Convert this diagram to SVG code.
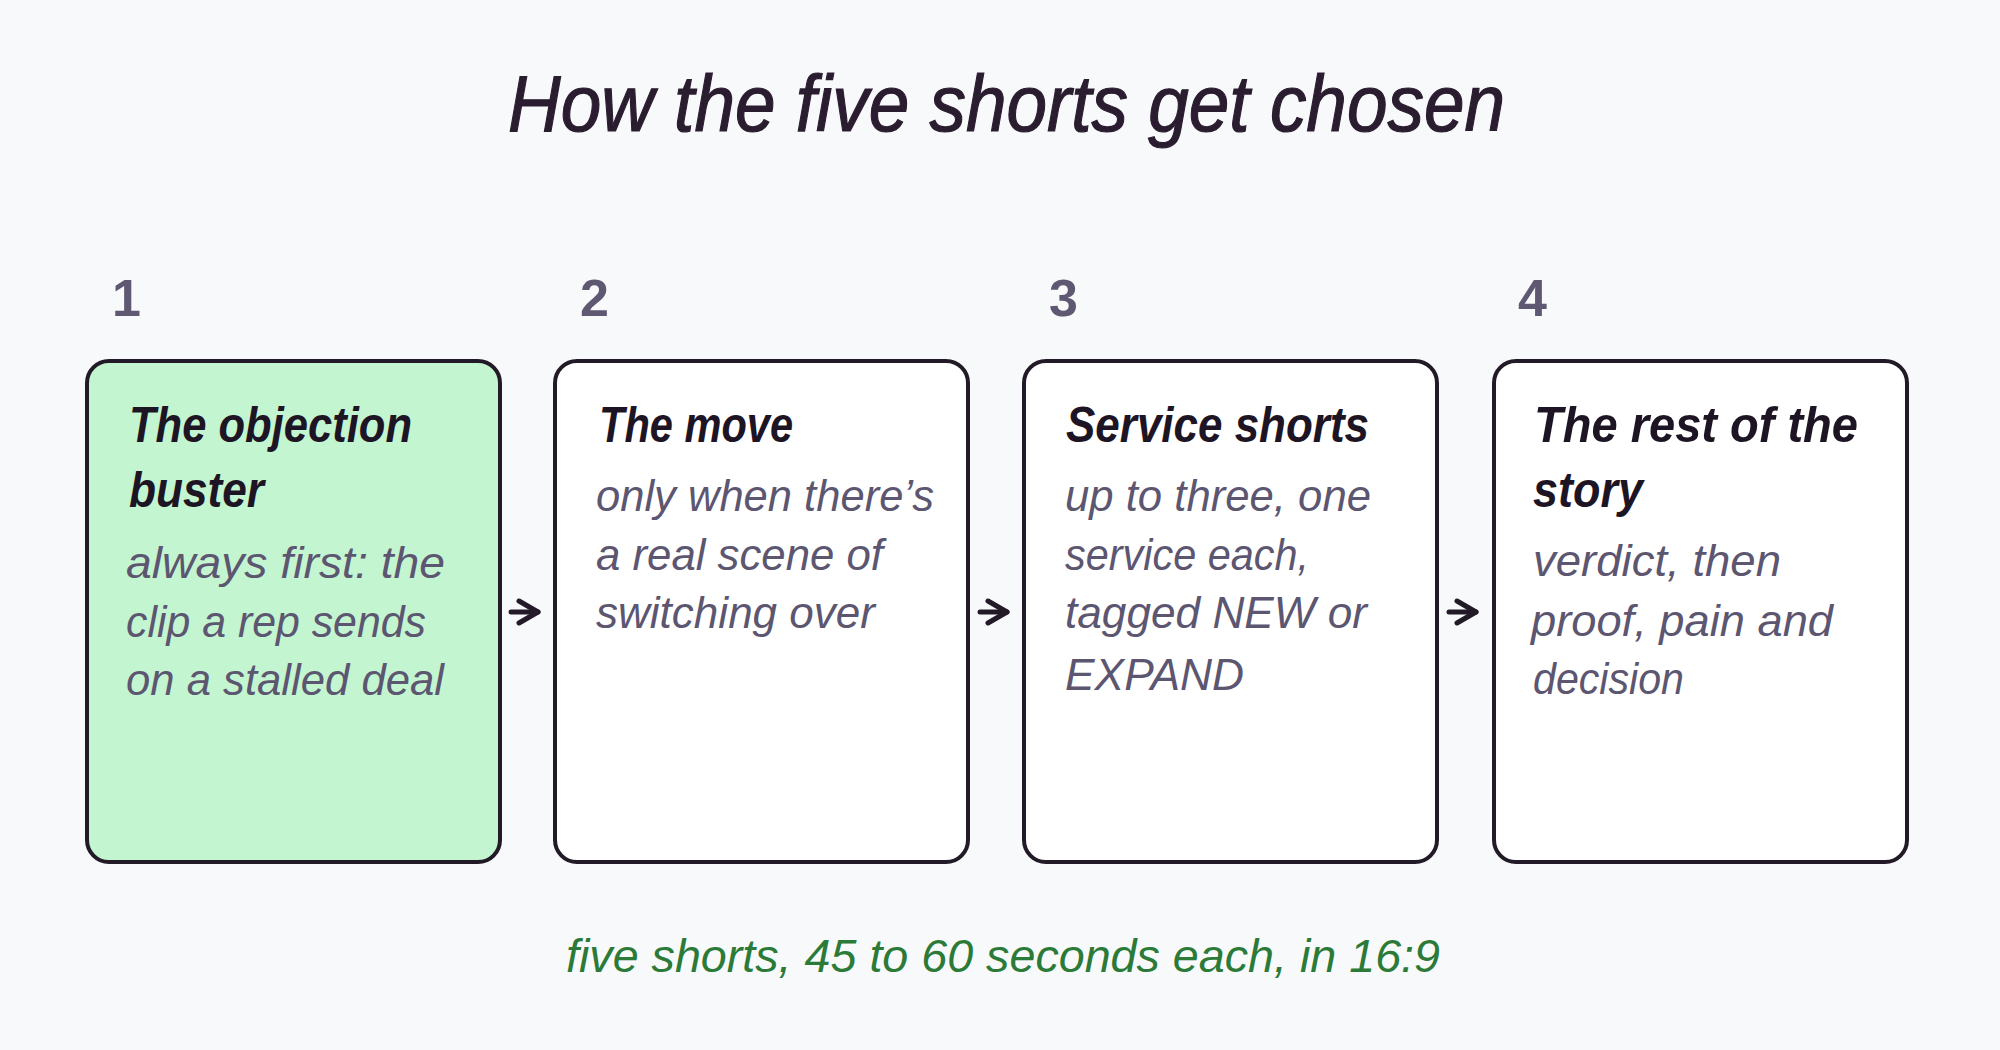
<svg xmlns="http://www.w3.org/2000/svg" width="2000" height="1050" viewBox="0 0 2000 1050">
<defs>
<style>
.bg{fill:#f8f9fb}
.box{stroke:#231a27;stroke-width:4;stroke-linejoin:round}
.title{font-family:"Liberation Sans",Arial,sans-serif;font-style:italic;font-size:80px;fill:#2a1d2f;stroke:#2a1d2f;stroke-width:1.2}
.num{font-family:"Liberation Sans",Arial,sans-serif;font-weight:bold;font-size:52px;fill:#5f5872}
.head{font-family:"Liberation Sans",Arial,sans-serif;font-style:italic;font-weight:bold;font-size:50px;fill:#1e1524}
.body{font-family:"Liberation Sans",Arial,sans-serif;font-style:italic;font-size:44px;fill:#5c5670}
.foot{font-family:"Liberation Sans",Arial,sans-serif;font-style:italic;font-size:46px;fill:#2b7a37}
.conn{stroke:#231a27;stroke-width:5;fill:none;stroke-linecap:round;stroke-linejoin:round}
</style>
<marker id="ah" viewBox="0 0 26 28" refX="23" refY="14" markerWidth="26" markerHeight="28" markerUnits="userSpaceOnUse" orient="auto">
<path d="M4,3 L23,14 L4,25" fill="none" stroke="#231a27" stroke-width="5" stroke-linecap="round" stroke-linejoin="round"/>
</marker>
</defs>
<rect class="bg" x="0" y="0" width="2000" height="1050"/>
<text class="title" x="508" y="131" textLength="997" lengthAdjust="spacingAndGlyphs">How the five shorts get chosen</text>

<g id="connectors">
<path class="conn" d="M511,612 L538,612" marker-end="url(#ah)"/>
<path class="conn" d="M980,612 L1007,612" marker-end="url(#ah)"/>
<path class="conn" d="M1449,612 L1476,612" marker-end="url(#ah)"/>
</g>

<g id="step1">
<text class="num" x="112" y="316">1</text>
<rect class="box" x="87" y="361" width="413" height="501" rx="22" fill="#c3f5d0"/>
<text class="head" x="129" y="442" textLength="283" lengthAdjust="spacingAndGlyphs">The objection</text>
<text class="head" x="129" y="507" textLength="135" lengthAdjust="spacingAndGlyphs">buster</text>
<text class="body" x="126" y="578" textLength="319" lengthAdjust="spacingAndGlyphs">always first: the</text>
<text class="body" x="126" y="637" textLength="300" lengthAdjust="spacingAndGlyphs">clip a rep sends</text>
<text class="body" x="126" y="695" textLength="318" lengthAdjust="spacingAndGlyphs">on a stalled deal</text>
</g>

<g id="step2">
<text class="num" x="580" y="316">2</text>
<rect class="box" x="555" y="361" width="413" height="501" rx="22" fill="#ffffff"/>
<text class="head" x="599" y="442" textLength="194" lengthAdjust="spacingAndGlyphs">The move</text>
<text class="body" x="596" y="511" textLength="338" lengthAdjust="spacingAndGlyphs">only when there’s</text>
<text class="body" x="596" y="570" textLength="287" lengthAdjust="spacingAndGlyphs">a real scene of</text>
<text class="body" x="596" y="628" textLength="279" lengthAdjust="spacingAndGlyphs">switching over</text>
</g>

<g id="step3">
<text class="num" x="1049" y="316">3</text>
<rect class="box" x="1024" y="361" width="413" height="501" rx="22" fill="#ffffff"/>
<text class="head" x="1066" y="442" textLength="303" lengthAdjust="spacingAndGlyphs">Service shorts</text>
<text class="body" x="1065" y="511" textLength="306" lengthAdjust="spacingAndGlyphs">up to three, one</text>
<text class="body" x="1065" y="570" textLength="244" lengthAdjust="spacingAndGlyphs">service each,</text>
<text class="body" x="1065" y="628" textLength="302" lengthAdjust="spacingAndGlyphs">tagged NEW or</text>
<text class="body" x="1065" y="690" textLength="179" lengthAdjust="spacingAndGlyphs">EXPAND</text>
</g>

<g id="step4">
<text class="num" x="1518" y="316">4</text>
<rect class="box" x="1494" y="361" width="413" height="501" rx="22" fill="#ffffff"/>
<text class="head" x="1534" y="442" textLength="324" lengthAdjust="spacingAndGlyphs">The rest of the</text>
<text class="head" x="1533" y="507" textLength="110" lengthAdjust="spacingAndGlyphs">story</text>
<text class="body" x="1533" y="576" textLength="248" lengthAdjust="spacingAndGlyphs">verdict, then</text>
<text class="body" x="1531" y="636" textLength="302" lengthAdjust="spacingAndGlyphs">proof, pain and</text>
<text class="body" x="1533" y="694" textLength="151" lengthAdjust="spacingAndGlyphs">decision</text>
</g>

<text class="foot" x="566" y="972" textLength="874" lengthAdjust="spacingAndGlyphs">five shorts, 45 to 60 seconds each, in 16:9</text>
</svg>
